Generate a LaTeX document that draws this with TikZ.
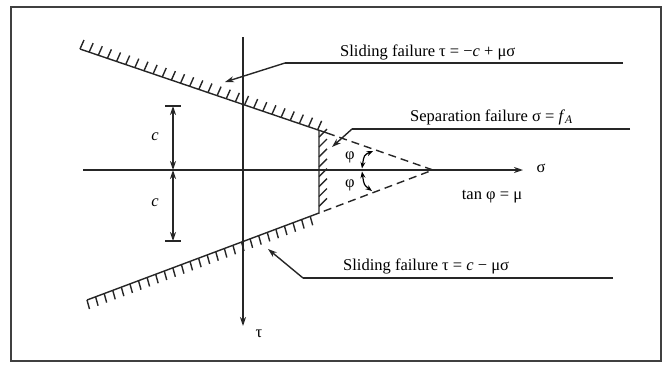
\documentclass[tikz,border=0pt]{standalone}
\usepackage{fontspec}
\setmainfont{Liberation Serif}
\usetikzlibrary{arrows.meta,calc}
\tikzset{
  ln/.style={line width=1.4pt, draw=black!85},
  tick/.style={line width=1.4pt, draw=black!85},
  tip/.style={-{Stealth[length=9pt,width=6pt]}},
  dtip/.style={{Stealth[length=9pt,width=6pt]}-{Stealth[length=9pt,width=6pt]}},
  lbl/.style={font=\fontsize{16.5}{19}\selectfont, inner sep=0pt},
}
\begin{document}
\begin{tikzpicture}[x=1pt,y=-1pt]
\useasboundingbox (0,0) rectangle (667,365);
\draw[line width=1.6pt, draw=black!75] (11,7) rectangle (661,361);

% key points
\coordinate (UL) at (80,49);
\coordinate (UR) at (327,133);
\coordinate (WT) at (319,130.5);
\coordinate (WB) at (319,213);
\coordinate (LL) at (87,300);
\coordinate (A) at (433,170);
\coordinate (Tt) at (243,37);
\coordinate (Tb) at (243,326);
\coordinate (Sl) at (83,170);
\coordinate (Sr) at (523,170);

% axes
\draw[ln,tip] (Tt) -- (Tb);
\draw[ln,tip] (Sl) -- (Sr);
\node[lbl] (tau) at (259,334) {τ};
\node[lbl] (sig) at (541,168) {σ};

% failure envelope
\draw[ln] (UL) -- (UR);
\draw[ln] (WT) -- (WB) -- (LL);
\foreach \t in {0,0.037,...,0.97} {
  \draw[tick] ($(UL)!\t!(UR)$) -- ++(4,-9);
}
\foreach \t in {0,0.037,...,0.97} {
  \draw[tick] ($(LL)!\t!(WB)$) -- ++(2.5,9);
}
\foreach \t in {0.08,0.2,...,0.98} {
  \draw[tick] ($(WT)!\t!(WB)$) -- ++(8,-8);
}

% dashed tension cut-off
\draw[ln,dash pattern=on 8pt off 5pt] (UR) -- (A) -- (WB);

% angle arcs
\coordinate (a1) at (373,151);
\coordinate (a2) at (362,168.5);
\coordinate (a3) at (362,171.5);
\coordinate (a4) at (372,191);
\draw[line width=1.2pt,{Stealth[length=6.5pt,width=5pt]}-{Stealth[length=6.5pt,width=5pt]}] (a1) .. controls (364,155) .. (a2);
\draw[line width=1.2pt,{Stealth[length=6.5pt,width=5pt]}-{Stealth[length=6.5pt,width=5pt]}] (a3) .. controls (364,185) .. (a4);
\node[lbl] (phi1) at (350,157) {φ};
\node[lbl] (phi2) at (350,185) {φ};
\node[lbl] (tanphi) at (492,197) {tan φ = μ};

% c dimensions
\coordinate (cT) at (173,106);
\coordinate (cM) at (173,170);
\coordinate (cB) at (173,241);
\draw[ln] (165,106) -- (181,106);
\draw[ln] (165,241) -- (181,241);
\draw[ln,dtip] (cT) -- (cM);
\draw[ln,dtip] (cM) -- (cB);
\node[lbl] (c1) at (155,137) {\textit{c}};
\node[lbl] (c2) at (155,203) {\textit{c}};

% labels with leaders
\node[lbl,anchor=base west] (l1) at (340,56) {Sliding failure τ = −\textit{c} + μσ};
\coordinate (b1) at (285,63);
\coordinate (e1) at (623,63);
\coordinate (t1) at (225,82);
\draw[ln] (e1) -- (b1);
\draw[ln,tip] (b1) -- (t1);

\node[lbl,anchor=base west] (l2) at (410,121) {Separation failure σ = \textit{f}\textsubscript{\textit{A}}};
\coordinate (b2) at (352,129);
\coordinate (e2) at (630,129);
\coordinate (t2) at (332,147);
\draw[ln] (e2) -- (b2);
\draw[ln,tip] (b2) -- (t2);

\node[lbl,anchor=base west] (l3) at (343,270) {Sliding failure τ = \textit{c} − μσ};
\coordinate (b3) at (303,278);
\coordinate (e3) at (613,278);
\coordinate (t3) at (268,249);
\draw[ln] (e3) -- (b3);
\draw[ln,tip] (b3) -- (t3);
\end{tikzpicture}
\end{document}
